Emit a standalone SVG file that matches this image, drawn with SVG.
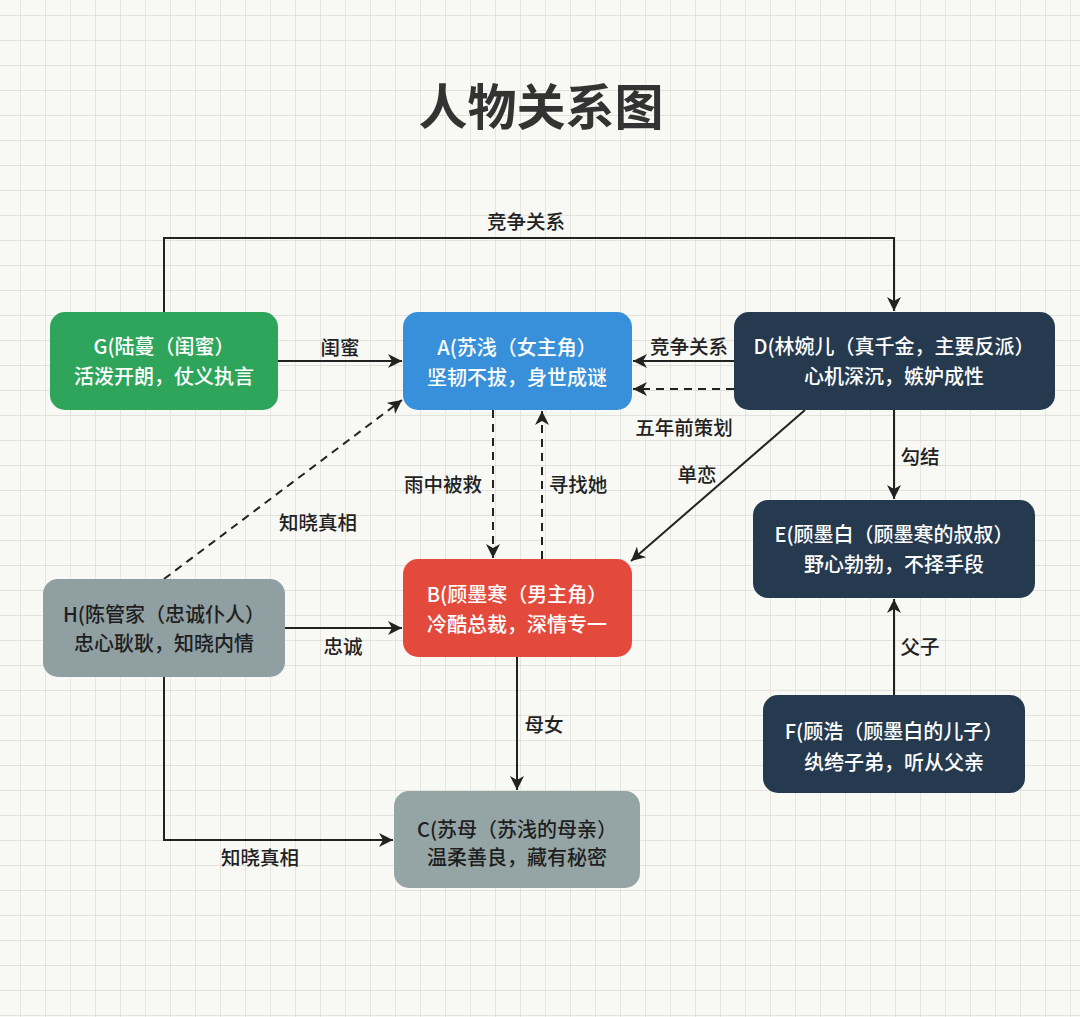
<svg xmlns="http://www.w3.org/2000/svg" width="1080" height="1017" viewBox="0 0 1080 1017">
<defs>
<pattern id="grid" x="20" y="15" width="25" height="25" patternUnits="userSpaceOnUse">
<path d="M0 0 H25 M0 0 V25" fill="none" stroke="#dcdad5" stroke-width="1.3"/>
</pattern>
<marker id="ah" markerUnits="userSpaceOnUse" markerWidth="16" markerHeight="14" refX="14" refY="7" orient="auto">
<path d="M0 0 L14 7 L0 14 L4 7 Z" fill="#222"/>
</marker>
<style>
.node text{font-family:"Noto Sans CJK SC","Noto Sans",sans-serif;font-size:20px;font-weight:500;text-anchor:middle;}
.light text{fill:#ffffff;}
.dark text{fill:#1e1e1e;}
.edge{fill:none;stroke:#222;stroke-width:2;marker-end:url(#ah);}
.dash{stroke-dasharray:8 6;}
.lbl{font-family:"Noto Sans CJK SC","Noto Sans",sans-serif;font-size:19.5px;font-weight:500;fill:#222;text-anchor:middle;}
</style>
</defs>
<rect width="1080" height="1017" fill="#f8f8f4"/>
<rect width="1080" height="1017" fill="url(#grid)"/>
<text x="541" y="125" font-family="'Noto Sans CJK SC','Noto Sans',sans-serif" font-size="49" font-weight="700" fill="#333" text-anchor="middle">人物关系图</text>

<g id="connectors">
<path class="edge" d="M164 312 V238 H894 V311"/>
<text class="lbl" x="526" y="229">竞争关系</text>
<path class="edge" d="M278 361 H402"/>
<text class="lbl" x="340" y="355">闺蜜</text>
<path class="edge" d="M734 361 H633"/>
<text class="lbl" x="689" y="354">竞争关系</text>
<path class="edge dash" d="M734 389 H633"/>
<text class="lbl" x="684" y="435">五年前策划</text>
<path class="edge" d="M894 410 V499"/>
<text class="lbl" x="920" y="464">勾结</text>
<path class="edge" d="M805 410 L631 561"/>
<text class="lbl" x="697" y="482">单恋</text>
<path class="edge dash" d="M493 410 V558"/>
<text class="lbl" x="443" y="492">雨中被救</text>
<path class="edge dash" d="M542 559 V411"/>
<text class="lbl" x="578" y="492">寻找她</text>
<path class="edge dash" d="M164 579 L402 400"/>
<text class="lbl" x="318" y="530">知晓真相</text>
<path class="edge" d="M285 628 H402"/>
<text class="lbl" x="343" y="654">忠诚</text>
<path class="edge" d="M517 657 V790"/>
<text class="lbl" x="544" y="732">母女</text>
<path class="edge" d="M894 695 V599"/>
<text class="lbl" x="920" y="654">父子</text>
<path class="edge" d="M164 677 V840 H393"/>
<text class="lbl" x="260" y="865">知晓真相</text>
</g>

<g id="G" class="node light">
<rect x="50" y="312" width="228" height="98" rx="15" fill="#2ea55b"/>
<text x="164" y="354">G(陆蔓（闺蜜）</text>
<text x="164" y="384">活泼开朗，仗义执言</text>
</g>
<g id="A" class="node light">
<rect x="403" y="312" width="229" height="98" rx="15" fill="#3990da"/>
<text x="517" y="355">A(苏浅（女主角）</text>
<text x="517" y="385">坚韧不拔，身世成谜</text>
</g>
<g id="D" class="node light">
<rect x="734" y="312" width="321" height="98" rx="15" fill="#263a4f"/>
<text x="894" y="354">D(林婉儿（真千金，主要反派）</text>
<text x="894" y="384">心机深沉，嫉妒成性</text>
</g>
<g id="E" class="node light">
<rect x="753" y="500" width="282" height="98" rx="15" fill="#263a4f"/>
<text x="894" y="542">E(顾墨白（顾墨寒的叔叔）</text>
<text x="894" y="572">野心勃勃，不择手段</text>
</g>
<g id="B" class="node light">
<rect x="403" y="559" width="229" height="98" rx="15" fill="#e34a3b"/>
<text x="517" y="602">B(顾墨寒（男主角）</text>
<text x="517" y="632">冷酷总裁，深情专一</text>
</g>
<g id="H" class="node dark">
<rect x="43" y="579" width="242" height="98" rx="15" fill="#909fa1"/>
<text x="164" y="622">H(陈管家（忠诚仆人）</text>
<text x="164" y="651">忠心耿耿，知晓内情</text>
</g>
<g id="C" class="node dark">
<rect x="394" y="791" width="246" height="97" rx="15" fill="#95a5a6"/>
<text x="517" y="837">C(苏母（苏浅的母亲）</text>
<text x="517" y="865">温柔善良，藏有秘密</text>
</g>
<g id="F" class="node light">
<rect x="763" y="695" width="262" height="98" rx="15" fill="#263a4f"/>
<text x="894" y="739">F(顾浩（顾墨白的儿子）</text>
<text x="894" y="770">纨绔子弟，听从父亲</text>
</g>
</svg>
